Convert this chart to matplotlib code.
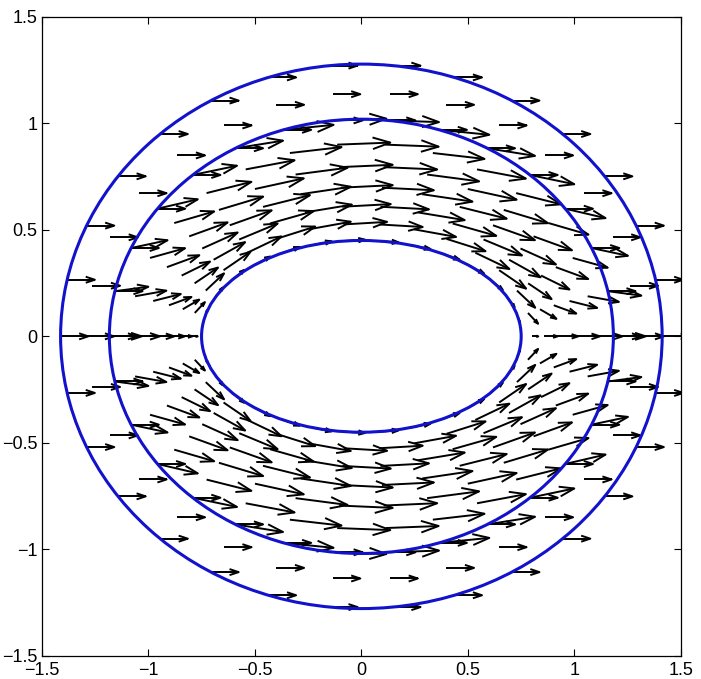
import numpy as np
import matplotlib.pyplot as plt
from matplotlib.patches import Ellipse
from matplotlib.collections import LineCollection

plt.rcParams['font.family'] = ['Liberation Sans', 'DejaVu Sans']

# elliptic coordinates: x = c*cosh(mu)*cos(nu), y = c*sinh(mu)*sin(nu)
focal = 0.6
mu_body = 0.693
mu_curves = [0.693, 1.3, 1.5]          # body, interface, outer boundary
mu_inner = [0.693, 0.794, 0.895, 0.996, 1.097, 1.199, 1.300]
gain_inner = [0.3, 0.68, 0.8, 0.9, 0.97, 1.0, 1.0]
mu_outer = [1.3, 1.4, 1.5]
n_nu = 30
scale_inner = 0.2
len_outer = 0.13

ticks = [-1.5, -1, -0.5, 0, 0.5, 1, 1.5]
tick_labels = ['\u22121.5', '\u22121', '\u22120.5', '0', '0.5', '1', '1.5']

curve_color = '#1212cc'


def grid_points(mus):
    nu = np.arange(n_nu) * 2 * np.pi / n_nu
    M, N = np.meshgrid(np.array(mus), nu, indexing='ij')
    x = focal * np.cosh(M) * np.cos(N)
    y = focal * np.sinh(M) * np.sin(N)
    return M, N, x, y


def arrow_segments(x, y, u, v, alpha=0.33, beta=0.33):
    # shafts plus open heads, drawn the way matlab's quiver does
    segs = []
    for xi, yi, ui, vi in zip(x.ravel(), y.ravel(), u.ravel(), v.ravel()):
        tx, ty = xi + ui, yi + vi
        segs.append([(xi, yi), (tx, ty)])
        segs.append([(tx - alpha * (ui + beta * vi), ty - alpha * (vi - beta * ui)),
                     (tx, ty),
                     (tx - alpha * (ui - beta * vi), ty - alpha * (vi + beta * ui))])
    return segs


# inner field: flow past the ellipse, dW/dz with W = cosh(xi - mu_body)
M, N, xi_, yi_ = grid_points(mu_inner)
zeta = M + 1j * N
dw = (np.cosh(mu_body) + np.sinh(mu_body)) * np.sinh(zeta - mu_body) / np.sinh(zeta)
g = np.array(gain_inner)[:, None] * scale_inner
ui_ = g * dw.real
vi_ = -g * dw.imag

# outer field: uniform stream
_, _, xo, yo = grid_points(mu_outer)
uo = np.full_like(xo, len_outer)
vo = np.zeros_like(yo)

fig = plt.figure(figsize=(7.01, 6.79), dpi=100)
ax = fig.add_axes([0.0595, 0.0339, 0.912, 0.9415])

segs = arrow_segments(xi_, yi_, ui_, vi_) + arrow_segments(xo, yo, uo, vo)
ax.add_collection(LineCollection(segs, colors='black', linewidths=1.4, zorder=2))

for mu in mu_curves:
    ax.add_patch(Ellipse((0, 0), 2 * focal * np.cosh(mu), 2 * focal * np.sinh(mu),
                         fill=False, edgecolor=curve_color, linewidth=2.2, zorder=3))

ax.set_xlim(-1.5, 1.5)
ax.set_ylim(-1.5, 1.5)
ax.set_xticks(ticks)
ax.set_xticklabels(tick_labels)
ax.set_yticks(ticks)
ax.set_yticklabels(tick_labels)
ax.tick_params(direction='in', top=True, right=True, length=5, width=0.8,
               labelsize=13)
ax.tick_params(axis='y', pad=3)
ax.tick_params(axis='x', pad=4)
for s in ax.spines.values():
    s.set_linewidth(0.9)

plt.savefig('out.png', dpi=100)
